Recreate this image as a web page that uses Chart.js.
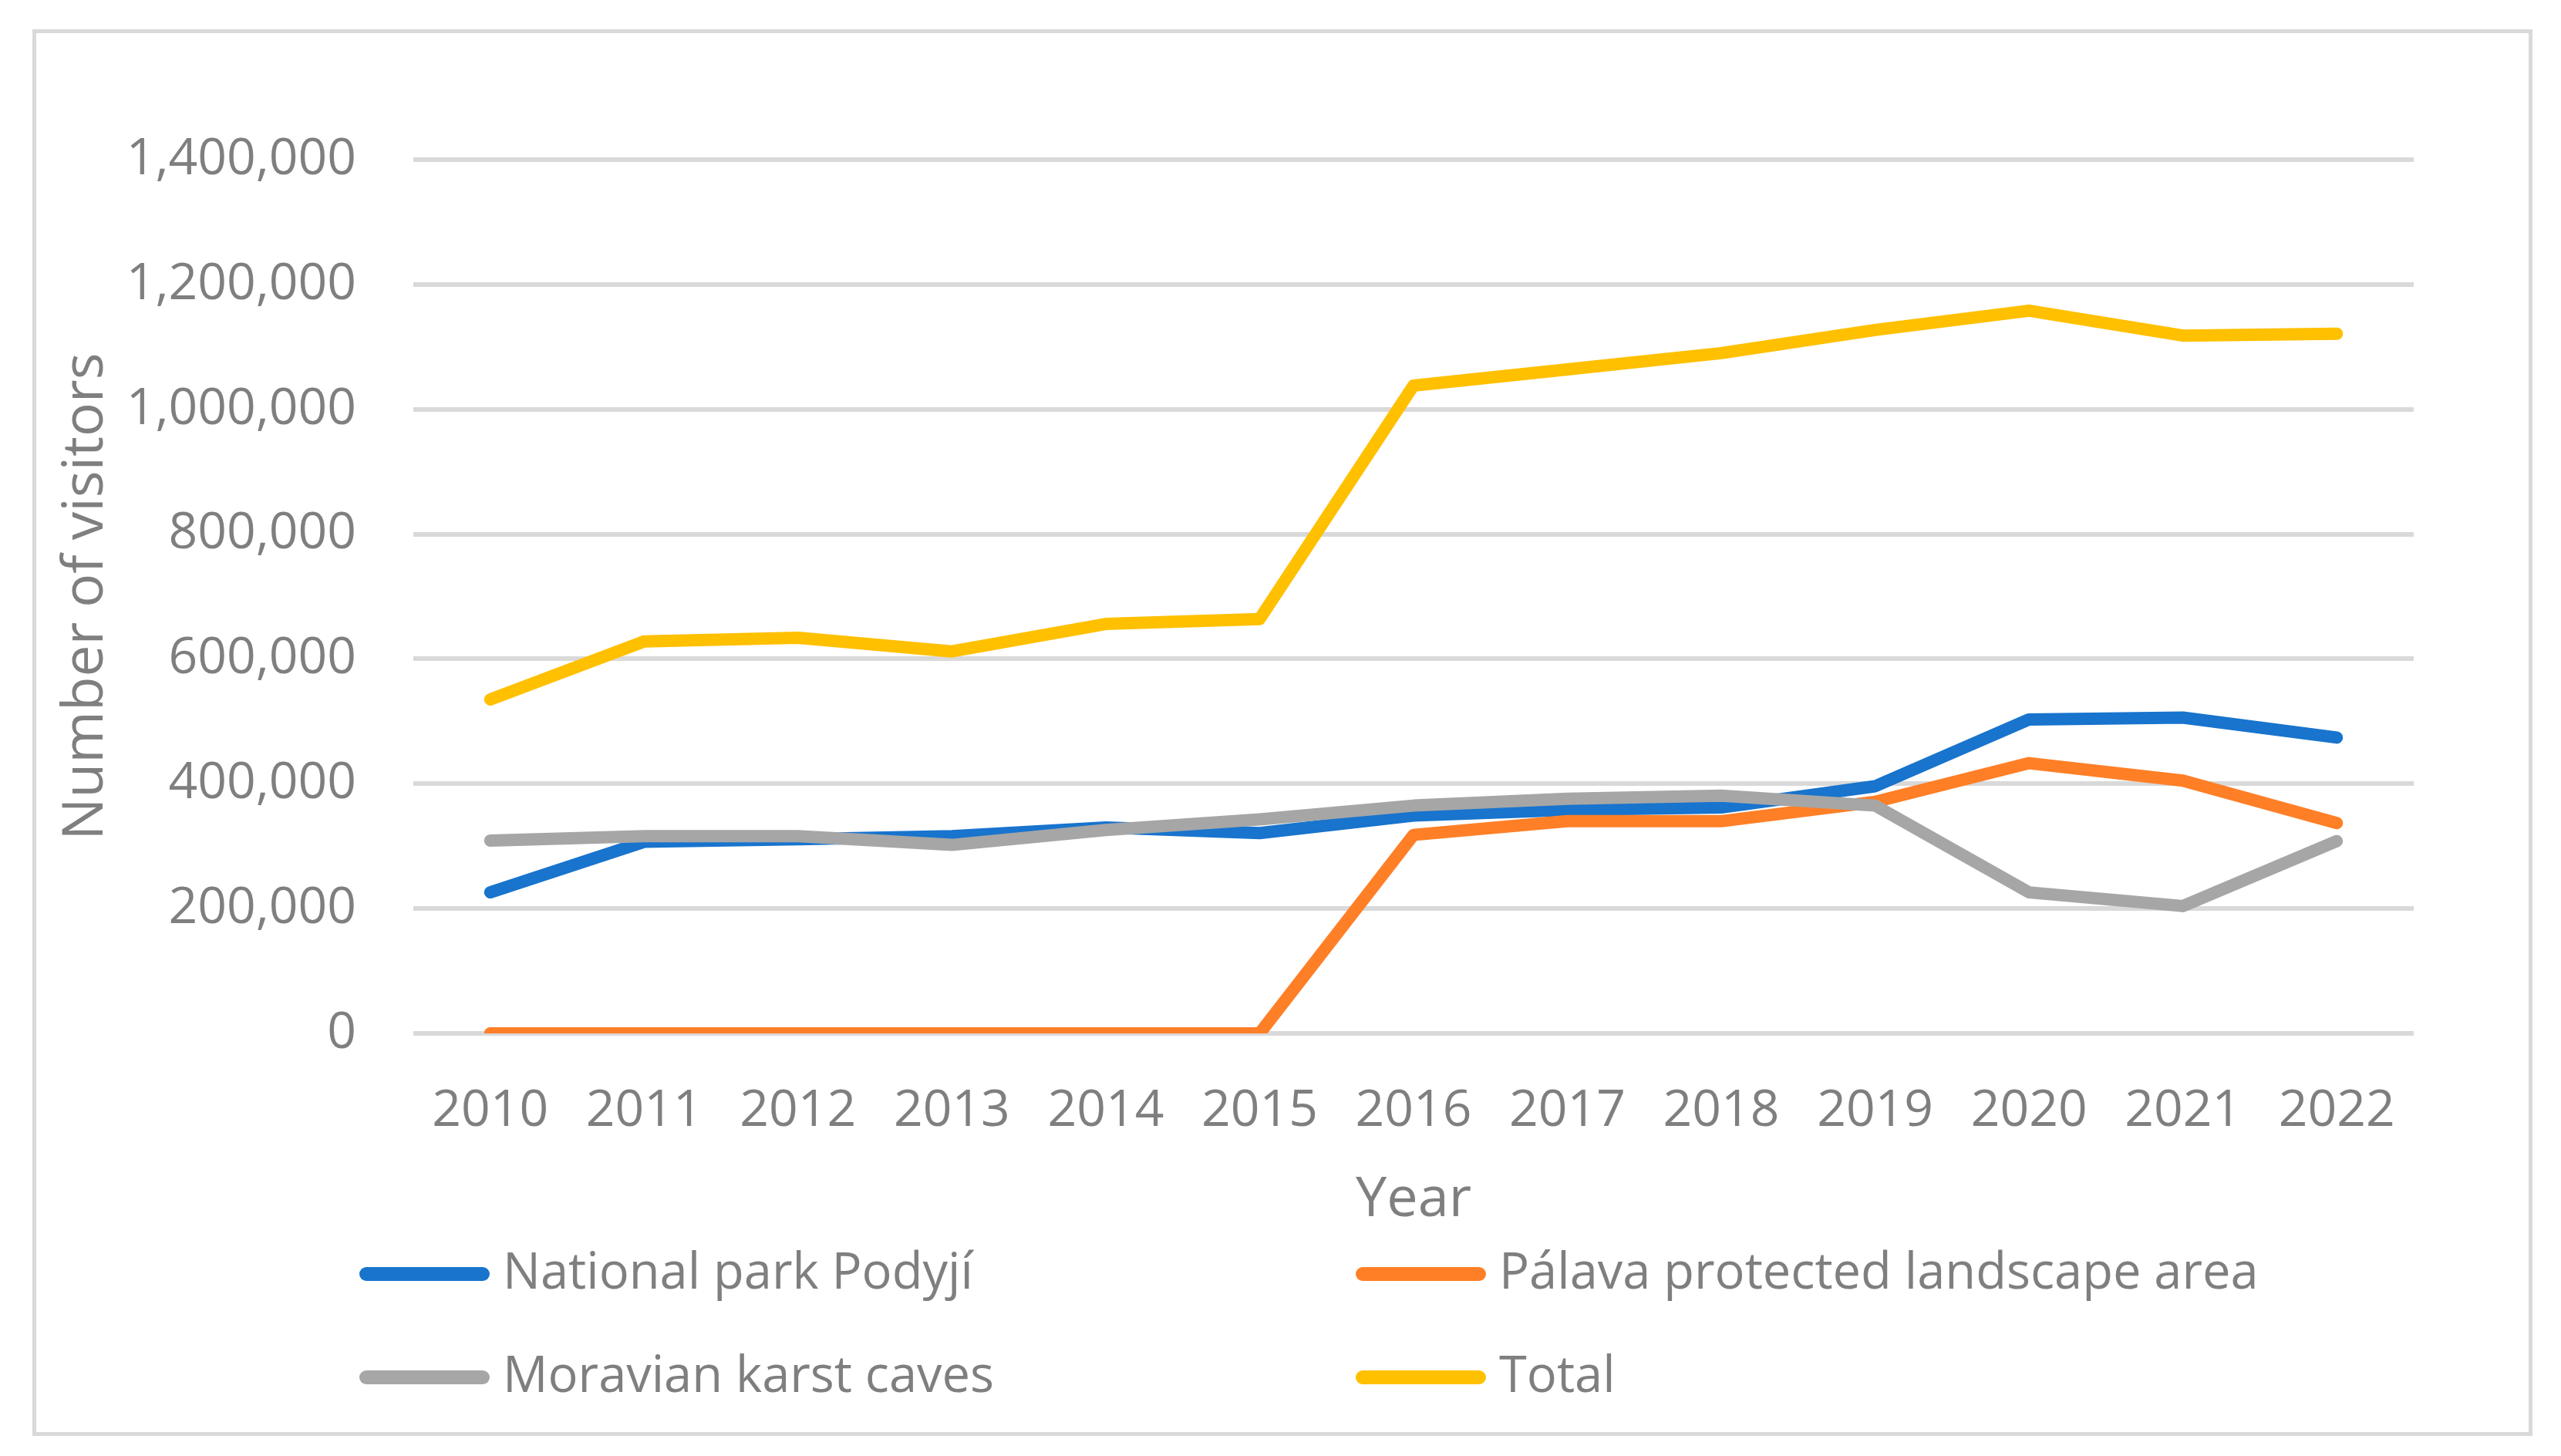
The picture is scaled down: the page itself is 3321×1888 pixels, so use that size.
<!DOCTYPE html>
<html>
<head>
<meta charset="utf-8">
<script src="https://cdn.jsdelivr.net/npm/chart.js@4.4.1/dist/chart.umd.min.js"></script>
<style>
  html, body { margin: 0; padding: 0; background: #fff; }
  #wrap { position: absolute; left: 0; top: 0; width: 3321px; height: 1888px; }
  #frame { position: absolute; left: 42px; top: 38px; width: 3232px; height: 1814px;
           border: 5px solid #d9d9d9; pointer-events: none; }
  .leg { position: absolute; font-family: "Open Sans", sans-serif; font-size: 65px; color: #7f7f7f;
         white-space: nowrap; line-height: 1; }
  .sw { position: absolute; width: 169px; height: 18px; border-radius: 9px; }
</style>
</head>
<body>
<div id="wrap"><canvas id="graph"></canvas></div>
<div id="frame"></div>
<div id="legend"></div>
<script>
var years = ['2010', '2011', '2012', '2013', '2014', '2015', '2016', '2017', '2018', '2019', '2020', '2021', '2022'];
var podyji = [226000, 307000, 311000, 316000, 330000, 321000, 349000, 358000, 362000, 396000, 503000, 506000, 474000];
var palava = [0, 0, 0, 0, 0, 0, 318000, 340000, 340000, 371000, 433000, 405000, 337000];
var caves = [309000, 316000, 316000, 302000, 326000, 343000, 365000, 376000, 381000, 365000, 226000, 204000, 308000];
var total = [535000, 628000, 634000, 612000, 656000, 664000, 1038000, 1064000, 1090000, 1127000, 1158000, 1118000, 1121000];
var names = ['National park Podyjí', 'Pálava protected landscape area', 'Moravian karst caves', 'Total'];
var colors = ['#1874cd', '#ff7f27', '#a6a6a6', '#ffc000'];
var yTicks = [0, 200000, 400000, 600000, 800000, 1000000, 1200000, 1400000];

var font = 'Open Sans';
var grey = '#7f7f7f';

function series(i, values) {
  return {
    label: names[i],
    data: values,
    borderColor: colors[i],
    backgroundColor: colors[i],
    borderWidth: 16,
    borderCapStyle: 'round',
    borderJoinStyle: 'round',
    pointRadius: 0,
    fill: false,
    tension: 0,
    order: 3 - i
  };
}

var ctx = document.getElementById('graph');
var myChart = new Chart(ctx, {
  type: 'line',
  data: {
    labels: years,
    datasets: [series(0, podyji), series(1, palava), series(2, caves), series(3, total)]
  },
  options: {
    responsive: true,
    maintainAspectRatio: false,
    devicePixelRatio: 1,
    animation: false,
    layout: { padding: { top: 207, right: 191, left: 0, bottom: 0 } },
    plugins: { legend: { display: false }, tooltip: { enabled: false } },
    scales: {
      x: {
        type: 'category',
        offset: true,
        grid: { display: false },
        border: { display: false },
        ticks: { color: grey, font: { family: font, size: 66 }, padding: 54, maxRotation: 0, autoSkip: false },
        title: { display: true, text: 'Year', color: grey, font: { family: font, size: 72 },
                 padding: { top: 0, bottom: 288 } },
        afterFit: function(s) { s.height = 548; }
      },
      y: {
        min: 0,
        max: 1400000,
        afterBuildTicks: function(s) { s.ticks = yTicks.map(function(v) { return { value: v }; }); },
        grid: { color: '#d9d9d9', lineWidth: 6, drawTicks: false },
        border: { display: false },
        ticks: {
          color: grey, font: { family: font, size: 66 }, padding: 74,
          callback: function(v) { return Number(v).toLocaleString('en-US'); }
        },
        title: { display: true, text: 'Number of visitors', color: grey, font: { family: font, size: 73 },
                 padding: { top: 68, bottom: 0 } },
        afterFit: function(s) { s.width = 536; }
      }
    }
  }
});

// legend in two columns, like the original
var legend = document.getElementById('legend');
var cols = [466, 1758];
var rows = [1652, 1786];
names.forEach(function(n, i) {
  var x = cols[i % 2], y = rows[Math.floor(i / 2)];
  var sw = document.createElement('div');
  sw.className = 'sw';
  sw.style.background = colors[i];
  sw.style.left = x + 'px';
  sw.style.top = (y - 9) + 'px';
  legend.appendChild(sw);
  var t = document.createElement('div');
  t.className = 'leg';
  t.textContent = n;
  t.style.left = (x + 186) + 'px';
  t.style.top = (y - 38) + 'px';
  legend.appendChild(t);
});
</script>
</body>
</html>
